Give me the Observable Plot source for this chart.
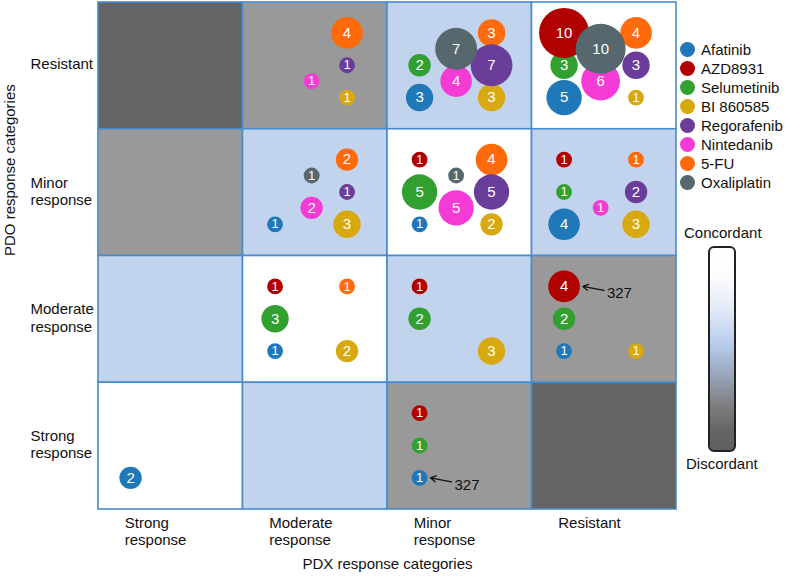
<!DOCTYPE html>
<html>
<head>
<meta charset="utf-8">
<script src="https://cdn.jsdelivr.net/npm/d3@7"></script>
<script src="https://cdn.jsdelivr.net/npm/@observablehq/plot@0.6"></script>
<style>
  html, body { margin: 0; padding: 0; background: #fff; }
  #wrap { position: relative; width: 788px; height: 576px; font-family: "Liberation Sans", Arial, Helvetica, sans-serif; }
  #legend { position: absolute; left: 680px; top: 40px; font-size: 15px; color: #111; }
  .item { display: flex; align-items: center; height: 19px; }
  .sw { width: 15px; height: 15px; border-radius: 50%; margin-right: 6px; }
  #grad-top, #grad-bot { position: absolute; font-size: 15px; color: #111; }
  #bar { position: absolute; left: 708px; top: 246px; width: 24px; height: 202px; border: 2px solid #222; border-radius: 6px;
    background: linear-gradient(to bottom, #ffffff 0%, #fbfcfe 14%, #e4ebf7 30%, #b6cbec 48%, #9aa8be 62%, #7e7e80 78%, #666 90%, #5f5f5f 100%); }
</style>
</head>
<body>
<div id="wrap"></div>
<script>
// ---------- data ----------
const pdxCategories = ["Strong\nresponse", "Moderate\nresponse", "Minor\nresponse", "Resistant"]; // columns, left→right
const pdoCategories = ["Strong\nresponse", "Moderate\nresponse", "Minor\nresponse", "Resistant"]; // rows, bottom→top
const drugs = ["Afatinib", "AZD8931", "Selumetinib", "BI 860585", "Regorafenib", "Nintedanib", "5-FU", "Oxaliplatin"];

// counts: rows = PDO (Resistant, Minor, Moderate, Strong), cols = PDX (Strong, Moderate, Minor, Resistant)
const afatinib    = [[0,0,3,5],[0,1,1,4],[0,1,0,1],[2,0,1,0]];
const azd8931     = [[0,0,0,10],[0,0,1,1],[0,1,1,4],[0,0,1,0]];
const selumetinib = [[0,0,2,3],[0,0,5,1],[0,3,2,2],[0,0,1,0]];
const bi860585    = [[0,1,3,1],[0,3,2,3],[0,2,3,1],[0,0,0,0]];
const regorafenib = [[0,1,7,3],[0,1,5,2],[0,0,0,0],[0,0,0,0]];
const nintedanib  = [[0,1,4,6],[0,2,5,1],[0,0,0,0],[0,0,0,0]];
const fiveFU      = [[0,4,3,4],[0,2,4,1],[0,1,0,0],[0,0,0,0]];
const oxaliplatin = [[0,0,7,10],[0,1,1,0],[0,0,0,0],[0,0,0,0]];
const drugCounts = [afatinib, azd8931, selumetinib, bi860585, regorafenib, nintedanib, fiveFU, oxaliplatin];

// discordance level of each cell: rows = PDO (Resistant, Minor, Moderate, Strong), cols = PDX (Strong..Resistant)
const discordance = [[3,2,1,0],[2,1,0,1],[1,0,1,2],[0,1,2,3]];

const annotations = [
  {pdoRow: 2, pdxCol: 3, drug: "AZD8931", label: "327"},
  {pdoRow: 3, pdxCol: 2, drug: "Afatinib", label: "327"}
];

// ---------- styles / layout ----------
const drugColors = ["#1f78b8", "#b00000", "#31a02f", "#d8a90f", "#6a3d9a", "#f53bd5", "#ff6a0a", "#56676d"];
const shadeColors = ["#ffffff", "#c2d3ee", "#999999", "#646464"];
// slot of each drug inside a cell (fraction of cell from left, fraction from bottom)
const slots = {
  "Afatinib":    [0.222, 0.25],
  "AZD8931":     [0.222, 0.76],
  "Selumetinib": [0.222, 0.505],
  "BI 860585":   [0.72, 0.25],
  "Regorafenib": [0.72, 0.505],
  "Nintedanib":  [0.475, 0.38],
  "5-FU":        [0.72, 0.76],
  "Oxaliplatin": [0.475, 0.635]
};
const drawOrder = ["Selumetinib", "Afatinib", "Nintedanib", "BI 860585", "5-FU", "AZD8931", "Regorafenib", "Oxaliplatin"];

const W = 788, H = 576, ML = 98, MR = 112, MT = 2, MB = 67;
const cellW = (W - ML - MR) / 4, cellH = (H - MT - MB) / 4;
const R_MAX = 25;
const rOf = n => R_MAX * Math.sqrt(n / 10);

// ---------- build tables ----------
const cells = [];
discordance.forEach((row, i) => row.forEach((lvl, j) => cells.push({col: j, row: 3 - i, level: lvl})));

const bubbles = [];
drugs.forEach((drug, k) => {
  drugCounts[k].forEach((row, i) => row.forEach((count, j) => {
    if (count > 0) bubbles.push({drug, count, color: drugColors[k], x: j + slots[drug][0], y: (3 - i) + slots[drug][1]});
  }));
});

const ann = annotations.map(a => {
  const b = bubbles.find(d => d.drug === a.drug && Math.floor(d.x) === a.pdxCol && Math.floor(d.y) === 3 - a.pdoRow);
  const r = rOf(b.count);
  return {
    label: a.label,
    sx: b.x + (r + 24) / cellW, sy: b.y - 4 / cellH,
    ex: b.x + (r + 3) / cellW, ey: b.y,
    tx: b.x + (r + 27) / cellW, ty: b.y - 7 / cellH
  };
});

const bubbleMarks = drawOrder.flatMap(drug => {
  const data = bubbles.filter(d => d.drug === drug);
  return [
    Plot.dot(data, {x: "x", y: "y", r: "count", fill: "color", stroke: "none"}),
    Plot.text(data, {x: "x", y: "y", text: d => String(d.count), fill: "white",
      fontSize: d => d.count === 1 ? 13 : 15})
  ];
});

const chart = Plot.plot({
  width: W, height: H,
  marginLeft: ML, marginRight: MR, marginTop: MT, marginBottom: MB,
  x: {domain: [0, 4]},
  y: {domain: [0, 4]},
  r: {type: "sqrt", domain: [0, 10], range: [0, R_MAX]},
  color: {type: "identity"},
  style: {fontFamily: '"Liberation Sans", Arial, Helvetica, sans-serif', fontSize: "15px", color: "#111", background: "white", overflow: "visible"},
  marks: [
    Plot.rect(cells, {x1: "col", x2: d => d.col + 1, y1: "row", y2: d => d.row + 1,
      fill: d => shadeColors[d.level], stroke: "#4a8bcc", strokeWidth: 1.6}),
    ...bubbleMarks,
    Plot.arrow(ann, {x1: "sx", y1: "sy", x2: "ex", y2: "ey", stroke: "#111", strokeWidth: 1.3, headLength: 7, bend: 0}),
    Plot.text(ann, {x: "tx", y: "ty", text: "label", textAnchor: "start", fill: "#111", fontSize: 15}),
    Plot.axisX({ticks: [0.5, 1.5, 2.5, 3.5], tickFormat: d => pdxCategories[Math.floor(d)], tickSize: 0, tickPadding: 6,
      textAnchor: "start", dx: -46, label: null, fontSize: 15, lineHeight: 1.15}),
    Plot.axisY({ticks: [0.5, 1.5, 2.5, 3.5], tickFormat: d => pdoCategories[Math.floor(d)], tickSize: 0, tickPadding: 0,
      textAnchor: "start", dx: -68, dy: -2, label: null, fontSize: 15, lineHeight: 1.15}),
    Plot.text(["PDO response categories"], {frameAnchor: "left", rotate: -90, dx: -88, fontSize: 15, fill: "#111"}),
    Plot.text(["PDX response categories"], {frameAnchor: "bottom", dy: 59, fontSize: 15, fill: "#111"})
  ]
});

const wrap = document.getElementById("wrap");
wrap.appendChild(chart);

// legend
const legend = document.createElement("div");
legend.id = "legend";
drugs.forEach((d, k) => {
  const it = document.createElement("div");
  it.className = "item";
  const sw = document.createElement("div");
  sw.className = "sw";
  sw.style.background = drugColors[k];
  const lab = document.createElement("span");
  lab.textContent = d;
  it.appendChild(sw); it.appendChild(lab);
  legend.appendChild(it);
});
wrap.appendChild(legend);

const gt = document.createElement("div");
gt.id = "grad-top"; gt.textContent = "Concordant";
gt.style.left = "684px"; gt.style.top = "224px";
wrap.appendChild(gt);
const bar = document.createElement("div");
bar.id = "bar";
wrap.appendChild(bar);
const gb = document.createElement("div");
gb.id = "grad-bot"; gb.textContent = "Discordant";
gb.style.left = "686px"; gb.style.top = "455px";
wrap.appendChild(gb);
</script>
</body>
</html>
